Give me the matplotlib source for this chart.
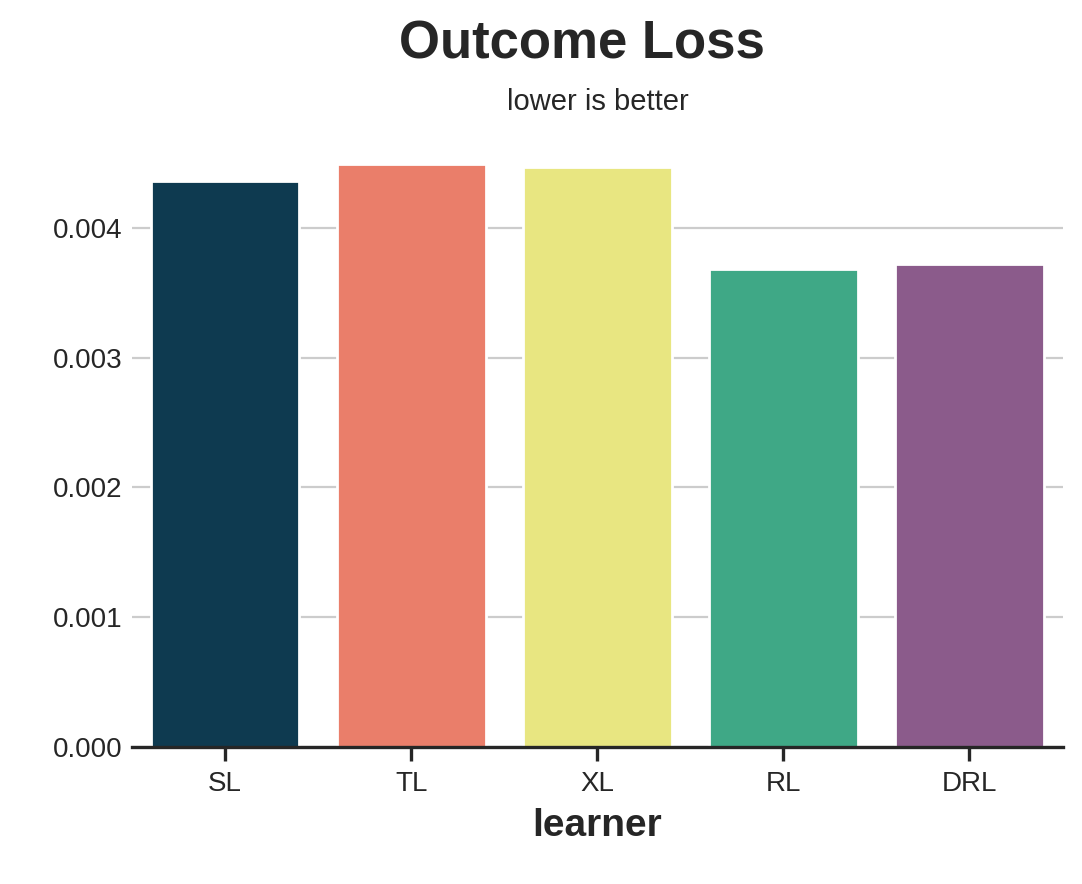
import matplotlib
matplotlib.use("Agg")
import matplotlib.pyplot as plt
import seaborn as sns

sns.set_theme(style="whitegrid")
plt.rcParams['font.family'] = ['Arial', 'Liberation Sans', 'DejaVu Sans']

learners = ["SL", "TL", "XL", "RL", "DRL"]
loss = [0.00436, 0.00449, 0.004467, 0.003686, 0.003724]
colors = ["#0e3a50", "#ea7e6a", "#e8e681", "#3fa886", "#8b5b8b"]

fig = plt.figure(figsize=(5.41, 4.42), dpi=200)
ax = fig.add_axes([0.122, 0.155, 0.86, 0.69])
ax.bar(learners, loss, color=colors, width=0.8)
ax.set_xlim(-0.5, 4.5)
ax.set_ylim(0, 0.0047)
ax.set_yticks([0, 0.001, 0.002, 0.003, 0.004])
ax.set_yticklabels(["0.000", "0.001", "0.002", "0.003", "0.004"], fontsize=10)
ax.tick_params(axis='x', labelsize=10, length=5, width=1.2, color="#262626", bottom=True)
ax.tick_params(axis='y', length=0)
ax.grid(axis='x', visible=False)
ax.grid(axis='y', color="#cccccc", linewidth=0.8)
for s in ["top", "right", "left"]:
    ax.spines[s].set_visible(False)
ax.spines["bottom"].set_color("#262626")
ax.spines["bottom"].set_linewidth(1.2)
ax.set_xlabel("learner", fontsize=14, fontweight="bold", color="#262626")
ax.set_ylabel("")
fig.text(0.538, 0.95, "Outcome Loss", ha="center", va="center", fontsize=19, fontweight="bold", color="#262626")
fig.text(0.553, 0.885, "lower is better", ha="center", va="center", fontsize=10.5, color="#262626")
fig.savefig("out.png", dpi=200)
